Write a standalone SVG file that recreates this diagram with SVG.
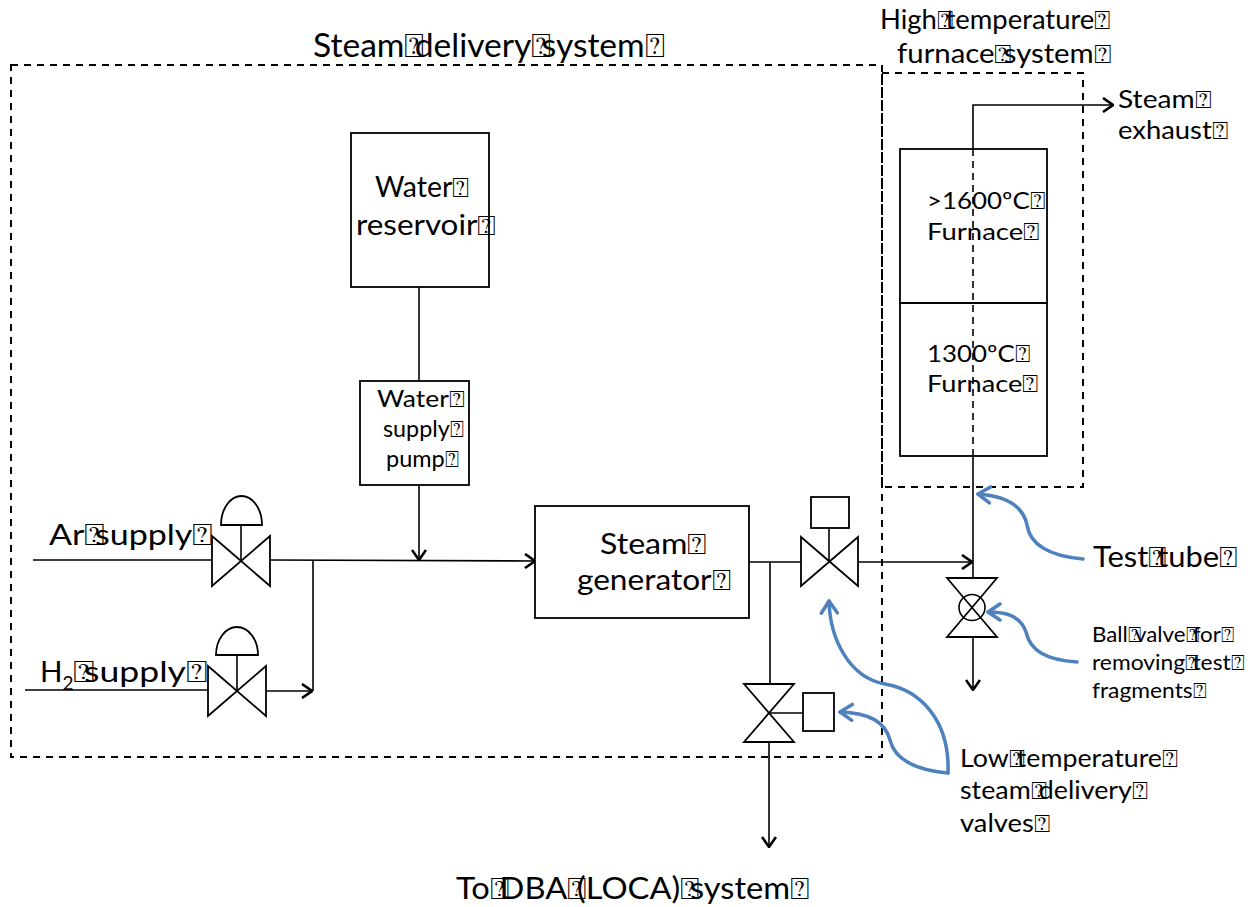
<svg xmlns="http://www.w3.org/2000/svg" width="1248" height="907" viewBox="0 0 1248 907">
<style>
.ln{stroke:#000;stroke-width:1.6;fill:none}
.bx{stroke:#000;stroke-width:1.8;fill:#fff}
.ob{stroke:#000;stroke-width:1.8;fill:none}
.vl{stroke:#000;stroke-width:1.8;fill:#fff;stroke-linejoin:miter}
.dash{stroke:#000;stroke-width:2;stroke-dasharray:7 6;fill:none}
.blue{stroke:#4f81bd;stroke-width:3.5;fill:none;stroke-linecap:round}
.t{font-family:Lato,"Liberation Sans",sans-serif;fill:#000}
.q{letter-spacing:-0.3em}
</style>
<defs>
<marker id="ah" viewBox="0 0 12 16" refX="11" refY="8" markerWidth="12" markerHeight="16" markerUnits="userSpaceOnUse" orient="auto">
<path d="M1,1 L11,8 L1,15" fill="none" stroke="#000" stroke-width="2.6"/>
</marker>
<marker id="bh" viewBox="0 0 16 20" refX="14" refY="10" markerWidth="16" markerHeight="20" markerUnits="userSpaceOnUse" orient="auto">
<path d="M2,2 L14,10 L2,18" fill="none" stroke="#4f81bd" stroke-width="3.5" stroke-linecap="round" stroke-linejoin="round"/>
</marker>
</defs>
<rect width="1248" height="907" fill="#fff"/>

<g id="steam-delivery-system">
<rect class="dash" x="11" y="65" width="871" height="692"/>
<text class="t" x="313" y="57" font-size="33" textLength="342" lengthAdjust="spacingAndGlyphs">Steam<tspan class="q">⍰</tspan>delivery<tspan class="q">⍰</tspan>system<tspan class="q">⍰</tspan></text>
</g>

<g id="furnace-system">
<rect class="dash" x="882" y="73" width="201" height="414"/>
<text class="t" x="880" y="29" font-size="26" textLength="223" lengthAdjust="spacingAndGlyphs">High<tspan class="q">⍰</tspan>temperature<tspan class="q">⍰</tspan></text>
<text class="t" x="897" y="63" font-size="26" textLength="206" lengthAdjust="spacingAndGlyphs">furnace<tspan class="q">⍰</tspan>system<tspan class="q">⍰</tspan></text>
</g>

<g id="connectors">
<line class="ln" x1="33" y1="560" x2="212" y2="560"/>
<line class="ln" x1="270" y1="560" x2="535" y2="561" marker-end="url(#ah)"/>
<line class="ln" x1="25" y1="690" x2="208" y2="690"/>
<line class="ln" x1="266" y1="691" x2="312" y2="691" marker-end="url(#ah)"/>
<line class="ln" x1="313" y1="560" x2="313" y2="691"/>
<line class="ln" x1="419" y1="287" x2="419" y2="381"/>
<line class="ln" x1="419" y1="485" x2="419" y2="560" marker-end="url(#ah)"/>
<line class="ln" x1="749" y1="562" x2="801" y2="562"/>
<line class="ln" x1="859" y1="562" x2="972" y2="562" marker-end="url(#ah)"/>
<line class="ln" x1="770" y1="562" x2="770" y2="684"/>
<line class="ln" x1="769" y1="742" x2="769" y2="847" marker-end="url(#ah)"/>
<line class="ln" x1="973" y1="456" x2="973" y2="578"/>
<line class="ln" x1="973" y1="637" x2="973" y2="690" marker-end="url(#ah)"/>
<line class="ln" x1="973" y1="149" x2="973" y2="456" stroke-dasharray="7 5"/>
<polyline class="ln" points="973,149 973,105 1113,105" marker-end="url(#ah)"/>
<path class="blue" d="M1083,559 C1050,556 1030,545 1027,525 C1023,505 1005,496 978,494" marker-end="url(#bh)"/>
<path class="blue" d="M1077,662 C1045,660 1030,650 1026,632 C1020,615 1005,612 988,612" marker-end="url(#bh)"/>
<path class="blue" d="M948,773 C950,720 920,690 885,684 C850,678 830,640 829,601" marker-end="url(#bh)"/>
<path class="blue" d="M948,773 C915,770 895,760 890,740 C885,722 870,713 840,712" marker-end="url(#bh)"/>
</g>

<g id="water-reservoir">
<rect class="bx" x="351" y="133" width="138" height="154"/>
<text class="t" x="375" y="197" font-size="28" textLength="86" lengthAdjust="spacingAndGlyphs">Water<tspan class="q">⍰</tspan></text>
<text class="t" x="356" y="235" font-size="28" textLength="131" lengthAdjust="spacingAndGlyphs">reservoir<tspan class="q">⍰</tspan></text>
</g>

<g id="water-pump">
<rect class="bx" x="360" y="381" width="109" height="104"/>
<text class="t" x="377" y="407" font-size="23" textLength="80" lengthAdjust="spacingAndGlyphs">Water<tspan class="q">⍰</tspan></text>
<text class="t" x="383" y="437" font-size="23" textLength="74" lengthAdjust="spacingAndGlyphs">supply<tspan class="q">⍰</tspan></text>
<text class="t" x="386" y="467" font-size="23" textLength="66" lengthAdjust="spacingAndGlyphs">pump<tspan class="q">⍰</tspan></text>
</g>

<g id="ar-valve">
<path class="vl" d="M212,536 L270,586 L270,536 L212,586 Z"/>
<line class="ln" x1="241" y1="561" x2="241" y2="525"/>
<path class="bx" d="M221,525 A20.5,29 0 0 1 262,525 Z"/>
<text class="t" x="49" y="545" font-size="29.5" textLength="154" lengthAdjust="spacingAndGlyphs">Ar<tspan class="q">⍰</tspan>supply<tspan class="q">⍰</tspan></text>
</g>

<g id="h2-valve">
<path class="vl" d="M208,666 L266,716 L266,666 L208,716 Z"/>
<line class="ln" x1="237" y1="691" x2="237" y2="655"/>
<path class="bx" d="M216,655 A21,28 0 0 1 258,655 Z"/>
<text class="t" x="40" y="682" font-size="29.5">H<tspan font-size="19" dy="8">2</tspan><tspan x="73" dy="-8" textLength="124" lengthAdjust="spacingAndGlyphs"><tspan class="q">⍰</tspan>supply<tspan class="q">⍰</tspan></tspan></text>
</g>

<g id="steam-generator">
<rect class="bx" x="535" y="506" width="214" height="112"/>
<text class="t" x="600" y="554" font-size="28.5" textLength="97" lengthAdjust="spacingAndGlyphs">Steam<tspan class="q">⍰</tspan></text>
<text class="t" x="577" y="590" font-size="28.5" textLength="144" lengthAdjust="spacingAndGlyphs">generator<tspan class="q">⍰</tspan></text>
</g>

<g id="steam-valve">
<path class="vl" d="M801,537 L858,586 L858,537 L801,586 Z"/>
<line class="ln" x1="829" y1="561" x2="829" y2="528"/>
<rect class="bx" x="811" y="497" width="38" height="31"/>
</g>

<g id="dba-valve">
<path class="vl" d="M744,684 L794,684 L744,742 L794,742 Z"/>
<line class="ln" x1="769" y1="713" x2="803" y2="713"/>
<rect class="bx" x="803" y="693" width="31" height="38"/>
</g>

<g id="furnace-1600">
<rect class="ob" x="900" y="149" width="147" height="154"/>
<text class="t" x="927" y="209" font-size="24" textLength="110" lengthAdjust="spacingAndGlyphs">&gt;1600ºC<tspan class="q">⍰</tspan></text>
<text class="t" x="927" y="240" font-size="24" textLength="104" lengthAdjust="spacingAndGlyphs">Furnace<tspan class="q">⍰</tspan></text>
</g>

<g id="furnace-1300">
<rect class="ob" x="900" y="303" width="147" height="153"/>
<text class="t" x="927" y="362" font-size="24" textLength="95" lengthAdjust="spacingAndGlyphs">1300ºC<tspan class="q">⍰</tspan></text>
<text class="t" x="927" y="392" font-size="24" textLength="103" lengthAdjust="spacingAndGlyphs">Furnace<tspan class="q">⍰</tspan></text>
</g>

<g id="ball-valve">
<path class="vl" d="M947,578 L997,578 L947,637 L997,637 Z"/>
<circle cx="972" cy="607.5" r="13" class="ln"/>
</g>

<g id="steam-exhaust-label">
<text class="t" x="1118" y="108" font-size="25" textLength="85" lengthAdjust="spacingAndGlyphs">Steam<tspan class="q">⍰</tspan></text>
<text class="t" x="1118" y="139" font-size="25" textLength="102" lengthAdjust="spacingAndGlyphs">exhaust<tspan class="q">⍰</tspan></text>
</g>
<g id="test-tube-label">
<text class="t" x="1093" y="567" font-size="29" textLength="135" lengthAdjust="spacingAndGlyphs">Test<tspan class="q">⍰</tspan>tube<tspan class="q">⍰</tspan></text>
</g>
<g id="ball-valve-label">
<text class="t" x="1092" y="642" font-size="21" textLength="136" lengthAdjust="spacingAndGlyphs">Ball<tspan class="q">⍰</tspan>valve<tspan class="q">⍰</tspan>for<tspan class="q">⍰</tspan></text>
<text class="t" x="1092" y="670" font-size="21" textLength="146" lengthAdjust="spacingAndGlyphs">removing<tspan class="q">⍰</tspan>test<tspan class="q">⍰</tspan></text>
<text class="t" x="1092" y="698" font-size="21" textLength="108" lengthAdjust="spacingAndGlyphs">fragments<tspan class="q">⍰</tspan></text>
</g>
<g id="low-temp-valves-label">
<text class="t" x="960" y="767" font-size="25" textLength="210" lengthAdjust="spacingAndGlyphs">Low<tspan class="q">⍰</tspan>temperature<tspan class="q">⍰</tspan></text>
<text class="t" x="960" y="799" font-size="25" textLength="180" lengthAdjust="spacingAndGlyphs">steam<tspan class="q">⍰</tspan>delivery<tspan class="q">⍰</tspan></text>
<text class="t" x="960" y="832" font-size="25" textLength="82" lengthAdjust="spacingAndGlyphs">valves<tspan class="q">⍰</tspan></text>
</g>
<g id="dba-label">
<text class="t" x="456" y="899" font-size="30" textLength="344" lengthAdjust="spacingAndGlyphs">To<tspan class="q">⍰</tspan>DBA<tspan class="q">⍰</tspan>(LOCA)<tspan class="q">⍰</tspan>system<tspan class="q">⍰</tspan></text>
</g>
</svg>
